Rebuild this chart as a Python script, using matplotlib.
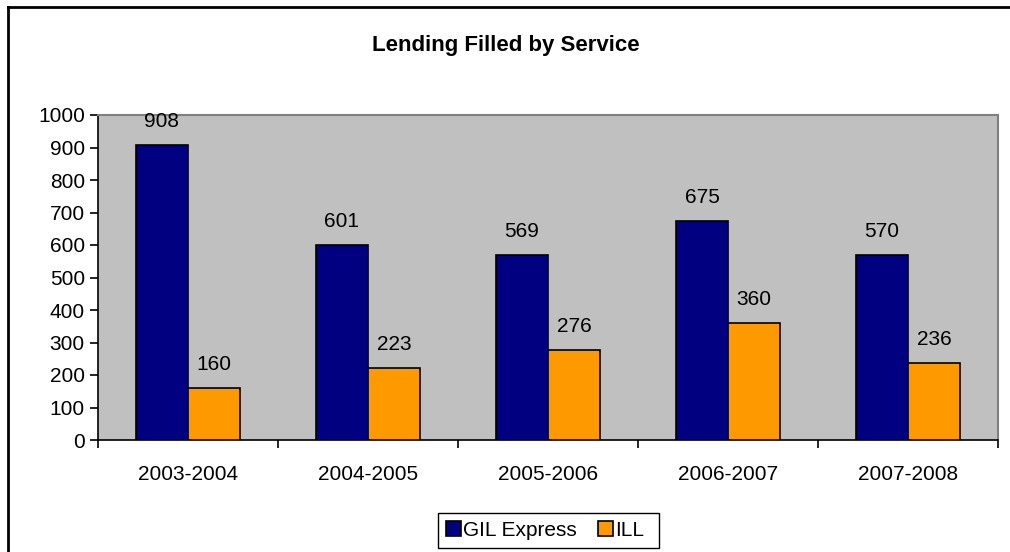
import matplotlib
matplotlib.use("Agg")
import matplotlib.pyplot as plt
import numpy as np
from matplotlib.lines import Line2D
from matplotlib.patches import Rectangle

plt.rcParams['font.family'] = ['Liberation Sans', 'DejaVu Sans']

years = ["2003-2004", "2004-2005", "2005-2006", "2006-2007", "2007-2008"]
gil_express = [908, 601, 569, 675, 570]
ill = [160, 223, 276, 360, 236]
y_ticks = list(range(0, 1001, 100))

W, H = 1010, 552
fig = plt.figure(figsize=(W / 100, H / 100), dpi=100)
ax = fig.add_axes([98 / W, 1 - 440 / H, 900 / W, 325 / H])
ax.set_facecolor("#c0c0c0")

x = np.arange(len(years))
w = 0.289
b1 = ax.bar(x - w / 2, gil_express, w, color="#000080", edgecolor="black",
            linewidth=1.2, label="GIL Express", zorder=3)
b2 = ax.bar(x + w / 2, ill, w, color="#ff9900", edgecolor="black",
            linewidth=1.2, label="ILL", zorder=3)

for bars, vals in ((b1, gil_express), (b2, ill)):
    for rect, v in zip(bars, vals):
        ax.annotate(f"{v}", (rect.get_x() + rect.get_width() / 2, v),
                    xytext=(0, 10), textcoords="offset points",
                    ha="center", va="bottom", fontsize=15)

ax.set_xlim(-0.5, len(years) - 0.5)
ax.set_ylim(0, 1000)
ax.set_yticks(y_ticks)
ax.tick_params(axis="y", labelsize=15, direction="out", length=6, width=1.2, color="black")
ax.set_xticks(x)
ax.set_xticklabels(years, fontsize=15)
ax.tick_params(axis="x", which="major", length=0, pad=18)
ax.set_xticks(np.arange(-0.5, len(years) + 0.5, 1), minor=True)
ax.tick_params(axis="x", which="minor", direction="out", length=6, width=1.2, color="black")

for side in ("top", "right"):
    ax.spines[side].set_color("#808080")
    ax.spines[side].set_linewidth(1.5)
for side in ("left", "bottom"):
    ax.spines[side].set_color("black")
    ax.spines[side].set_linewidth(1.2)

fig.text(506 / W, 1 - 45 / H, "Lending Filled by Service",
         ha="center", va="center", fontsize=16, fontweight="bold")

# legend entries, with a separately drawn box around them
leg = fig.legend(handles=[b1, b2], loc="center", bbox_to_anchor=(545 / W, 1 - 530.5 / H),
                 ncol=2, fontsize=15, frameon=False,
                 handlelength=0.7, handleheight=0.7, handletextpad=0.1,
                 columnspacing=1.05, borderpad=0, borderaxespad=0)
fig.add_artist(Rectangle((438 / W, 1 - 548 / H), 221 / W, 35 / H, transform=fig.transFigure,
                         facecolor="none", edgecolor="black", linewidth=1.0))

# outer chart frame (left and top edges)
fig.add_artist(Line2D([8 / W, 8 / W], [0, 1 - 7 / H], transform=fig.transFigure,
                      color="black", linewidth=2))
fig.add_artist(Line2D([8 / W, 1], [1 - 7 / H, 1 - 7 / H], transform=fig.transFigure,
                      color="black", linewidth=2))

fig.savefig("out.png", dpi=100)
